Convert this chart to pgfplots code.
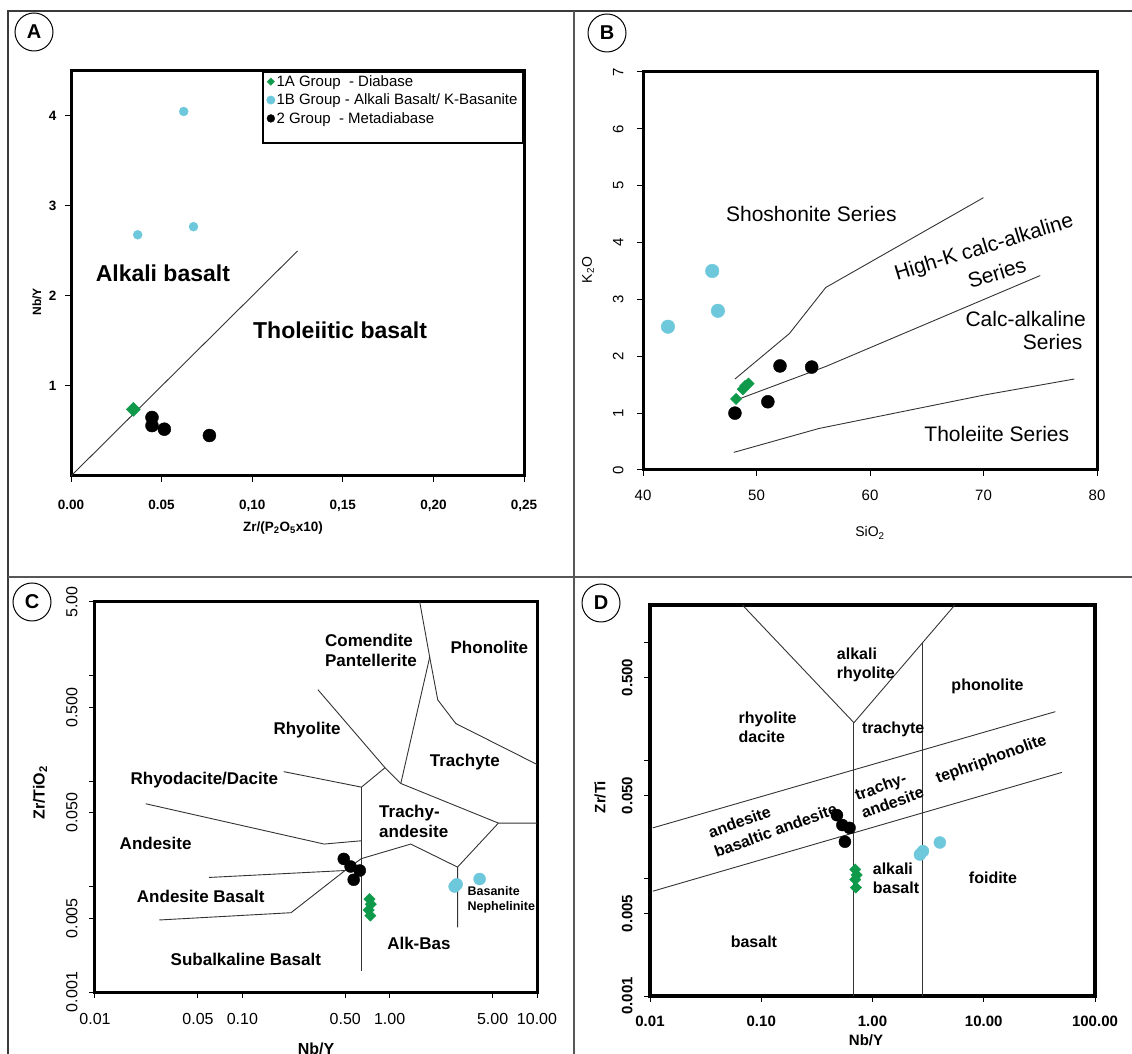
\documentclass[border=0pt]{standalone}
\usepackage{pgfplots}
\pgfplotsset{compat=1.18}
\usepackage{fontspec}
\setmainfont{Liberation Sans}
\setsansfont{Liberation Sans}
\definecolor{cgreen}{HTML}{0E9A4A}
\definecolor{ccyan}{HTML}{6EC8DC}
\definecolor{framec}{HTML}{3A3A3A}
\newcommand{\fs}[2]{\fontsize{#1pt}{#2pt}\selectfont}
\pgfplotsset{
  geo/.style={scale only axis, anchor=south west, tick align=outside, tick pos=left,
    axis line style={line width=3pt}, major tick length=6pt,
    major tick style={black, line width=1pt},
    xminorticks=false, yminorticks=false},
  bnd/.style={no marks, line width=0.9pt, black!80},
  gG/.style={only marks, mark=square*, color=cgreen, mark options={rotate=45}},
  gC/.style={only marks, mark=*, color=ccyan},
  gK/.style={only marks, mark=*, color=black},
}
\begin{document}
\begin{tikzpicture}
\useasboundingbox (0pt,0pt) rectangle (1132pt,1054pt);
% ---------------- frame ----------------
\draw[framec, line width=2.5pt] (8pt,0pt) -- (8pt,1043pt);
\draw[framec, line width=2pt] (7pt,1043pt) -- (1132pt,1043pt);
\draw[framec!85, line width=1.5pt] (574pt,0pt) -- (574pt,1043pt);
\draw[framec!85, line width=1.5pt] (8pt,477pt) -- (1132pt,477pt);
% ---------------- panel A ----------------
\begin{axis}[geo, at={(71pt,578pt)}, width=453pt, height=405pt,
  xmin=0, xmax=0.25, ymin=0, ymax=4.5,
  xtick={0,0.05,0.1,0.15,0.2,0.25}, xticklabels={0.00,0.05,{0,10},{0,15},{0,20},{0,25}},
  ytick={1,2,3,4}, yticklabels={1,2,3,4},
  ticklabel style={font=\fs{13.5}{16}\bfseries},
  xticklabel shift=15pt, yticklabel shift=5pt,
  legend style={at={(1,1)}, anchor=north east, draw=black, line width=2pt,
    font=\fs{15}{17}, inner xsep=4pt, inner ysep=2pt, row sep=3pt,
    nodes={inner sep=1.5pt}},
  legend cell align=left,
  legend image code/.code={\draw[#1] plot coordinates {(3pt,0pt)};},
  legend image post style={line width=0.4pt},
]
\addplot[bnd, forget plot] coordinates {(0,0) (0.125,2.5)};
\addplot[gG, mark size=5pt, forget plot] coordinates {(0.0344,0.74)};
\addplot[gC, mark size=4.5pt, forget plot] coordinates {(0.0622,4.05) (0.0368,2.68) (0.0676,2.77)};
\addplot[gK, mark size=6.5pt, forget plot] coordinates {(0.0447,0.65) (0.0447,0.56) (0.0515,0.52) (0.0764,0.45)};
\addlegendimage{gG, mark size=2.6pt}
\addlegendentry{1A Group~ - Diabase}
\addlegendimage{gC, mark size=4.2pt}
\addlegendentry{1B Group - Alkali Basalt/ K-Basanite}
\addlegendimage{gK, mark size=3.9pt}
\addlegendentry{2 Group~ - Metadiabase}
\addlegendimage{empty legend}
\addlegendentry{\rule{0pt}{7pt}}
\node[font=\fs{23}{26}\bfseries] at (axis cs:0.0507,2.25) {Alkali basalt};
\node[font=\fs{23}{26}\bfseries] at (axis cs:0.1485,1.62) {Tholeiitic basalt};
\end{axis}
\node[rotate=90, font=\fs{12}{14}\bfseries] at (37pt,752pt) {Nb/Y};
\node[font=\fs{13.5}{16}\bfseries] at (283pt,526pt) {Zr/(P\textsubscript{2}O\textsubscript{5}x10)};
% ---------------- panel B ----------------
\begin{axis}[geo, at={(643pt,584pt)}, width=454pt, height=398pt,
  xmin=40, xmax=80, ymin=0, ymax=7,
  xtick={40,50,60,70,80}, xticklabels={40,50,60,70,80},
  ytick={0,1,2,3,4,5,6,7}, yticklabels={0,1,2,3,4,5,6,7},
  ticklabel style={font=\fs{15}{17}},
  yticklabel style={rotate=90, anchor=south},
  xticklabel shift=11pt, yticklabel shift=10pt,
]
\addplot[bnd] coordinates {(48.1,1.6) (52.9,2.4) (56.1,3.21) (70,4.79)};
\addplot[bnd] coordinates {(48.6,1.26) (56.1,1.82) (75,3.42)};
\addplot[bnd] coordinates {(48,0.31) (55.5,0.73) (70.1,1.32) (78,1.6)};
\addplot[gC, mark size=6.8pt] coordinates {(42.2,2.52) (46.1,3.5) (46.6,2.8)};
\addplot[gK, mark size=6.5pt] coordinates {(48.1,1.0) (52.07,1.83) (54.86,1.81) (51.0,1.2)};
\addplot[gG, mark size=4pt] coordinates {(48.2,1.25) (48.8,1.42) (49.0,1.48) (49.3,1.52)};
\node[font=\fs{21}{24}] at (axis cs:54.83,4.51) {Shoshonite Series};
\node[font=\fs{21}{24}, rotate=17] at (axis cs:70.06,3.9) {High-K calc-alkaline};
\node[font=\fs{21}{24}, rotate=17] at (axis cs:71.17,3.47) {Series};
\node[font=\fs{21}{24}] at (axis cs:73.71,2.65) {Calc-alkaline};
\node[font=\fs{21}{24}] at (axis cs:76.1,2.26) {Series};
\node[font=\fs{21}{24}] at (axis cs:71.17,0.63) {Tholeiite Series};
\end{axis}
\node[rotate=90, font=\fs{14}{16}] at (588pt,784pt) {K\textsubscript{2}O};
\node[font=\fs{14}{16}] at (870pt,521pt) {SiO\textsubscript{2}};
% ---------------- panel C ----------------
\begin{axis}[geo, xmode=log, ymode=log, at={(95pt,62pt)}, width=442pt, height=390pt,
  xmin=0.01, xmax=10, ymin=0.001, ymax=5,
  xtick={0.01,0.05,0.1,0.5,1,5,10}, xticklabels={0.01,0.05,0.10,0.50,1.00,5.00,10.00},
  ytick={0.001,0.005,0.01,0.05,0.1,0.5,1,5}, yticklabels={0.001,0.005,{},0.050,{},0.500,{},5.00},
  ticklabel style={font=\fs{16}{18}},
  yticklabel style={rotate=90, anchor=south},
  xticklabel shift=12pt, yticklabel shift=8pt,
]
\addplot[bnd] coordinates {(0.644,0.0877) (0.644,0.00158)};
\addplot[bnd] coordinates {(0.644,0.0877) (0.93,0.134) (1.19,0.095)};
\addplot[bnd] coordinates {(0.326,0.736) (0.93,0.134)};
\addplot[bnd] coordinates {(1.19,0.095) (1.87,1.5) (1.6,5)};
\addplot[bnd] coordinates {(1.87,1.5) (2.12,0.59) (2.81,0.352) (10,0.144)};
\addplot[bnd] coordinates {(1.19,0.095) (5.47,0.040) (10,0.040)};
\addplot[bnd] coordinates {(5.47,0.040) (2.89,0.0153) (2.89,0.0041)};
\addplot[bnd] coordinates {(0.498,0.0142) (0.642,0.0184) (1.39,0.0253) (2.89,0.0153)};
\addplot[bnd] coordinates {(0.0594,0.0122) (0.498,0.0142)};
\addplot[bnd] coordinates {(0.0273,0.00482) (0.214,0.00565) (0.498,0.0142)};
\addplot[bnd] coordinates {(0.0221,0.061) (0.359,0.0253) (0.644,0.0272)};
\addplot[bnd] coordinates {(0.191,0.123) (0.644,0.0877)};
\addplot[gK, mark size=6pt] coordinates {(0.488,0.0183) (0.543,0.0155) (0.627,0.0142) (0.57,0.0116)};
\addplot[gC, mark size=6pt] coordinates {(2.76,0.0100) (2.85,0.0105) (4.08,0.0118)};
\addplot[gG, mark size=4pt] coordinates {(0.73,0.0076) (0.745,0.0068) (0.72,0.0060) (0.74,0.0053)};
\node[font=\fs{17}{20}\bfseries, anchor=west, align=left] at (axis cs:0.345,1.74) {Comendite\\Pantellerite};
\node[font=\fs{17}{20}\bfseries] at (axis cs:4.75,1.85) {Phonolite};
\node[font=\fs{17}{20}\bfseries] at (axis cs:0.275,0.303) {Rhyolite};
\node[font=\fs{17}{20}\bfseries] at (axis cs:3.24,0.152) {Trachyte};
\node[font=\fs{17}{20}\bfseries] at (axis cs:0.0552,0.103) {Rhyodacite/Dacite};
\node[font=\fs{17}{20}\bfseries, anchor=west, align=left] at (axis cs:0.804,0.0419) {Trachy-\\andesite};
\node[font=\fs{17}{20}\bfseries] at (axis cs:0.0258,0.0255) {Andesite};
\node[font=\fs{17}{20}\bfseries] at (axis cs:0.0522,0.00807) {Andesite Basalt};
\node[font=\fs{12.5}{15}\bfseries, anchor=west, align=left] at (axis cs:3.2,0.00752) {Basanite\\Nephelinite};
\node[font=\fs{17}{20}\bfseries] at (axis cs:1.58,0.00287) {Alk-Bas};
\node[font=\fs{17}{20}\bfseries] at (axis cs:0.1056,0.00203) {Subalkaline Basalt};
\end{axis}
\node[rotate=90, font=\fs{16}{18}\bfseries] at (40pt,261pt) {Zr/TiO\textsubscript{2}};
\node[font=\fs{16}{18}\bfseries] at (316pt,5pt) {Nb/Y};
% ---------------- panel D ----------------
\begin{axis}[geo, xmode=log, ymode=log, at={(650pt,58pt)}, width=445pt, height=391pt,
  xmin=0.01, xmax=100, ymin=0.001, ymax=2.06,
  axis line style={line width=3.5pt},
  xtick={0.01,0.1,1,10,100}, xticklabels={0.01,0.10,1.00,10.00,100.00},
  ytick={0.001,0.005,0.01,0.05,0.1,0.5,1}, yticklabels={0.001,0.005,{},0.050,{},0.500,{}},
  ticklabel style={font=\fs{15}{17}\bfseries},
  yticklabel style={rotate=90, anchor=south},
  xticklabel shift=10pt, yticklabel shift=8pt,
]
\addplot[bnd] coordinates {(0.0677,2.06) (0.681,0.207)};
\addplot[bnd] coordinates {(0.681,0.207) (5.5,2.06)};
\addplot[bnd] coordinates {(0.681,0.207) (0.681,0.001)};
\addplot[bnd] coordinates {(2.84,1.0) (2.84,0.001)};
\addplot[bnd] coordinates {(0.0106,0.0266) (44,0.257)};
\addplot[bnd] coordinates {(0.0106,0.00773) (50.3,0.0785)};
\addplot[gK, mark size=6pt] coordinates {(0.479,0.0341) (0.536,0.0281) (0.622,0.0266) (0.565,0.0203)};
\addplot[gC, mark size=6pt] coordinates {(2.67,0.0158) (2.84,0.0169) (4.03,0.0200)};
\addplot[gG, mark size=4pt] coordinates {(0.70,0.0118) (0.72,0.0106) (0.70,0.0097) (0.71,0.0083)};
\node[font=\fs{16}{19}\bfseries, anchor=west, align=left] at (axis cs:0.445,0.638) {alkali\\rhyolite};
\node[font=\fs{16}{19}\bfseries] at (axis cs:10.8,0.424) {phonolite};
\node[font=\fs{16}{19}\bfseries, anchor=west, align=left] at (axis cs:0.0583,0.19) {rhyolite\\dacite};
\node[font=\fs{16}{19}\bfseries, anchor=west] at (axis cs:0.75,0.182) {trachyte};
\node[font=\fs{16}{19}\bfseries, rotate=20] at (axis cs:0.0637,0.0299) {andesite};
\node[font=\fs{16}{19}\bfseries, rotate=20] at (axis cs:0.1346,0.0254) {basaltic andesite};
\node[font=\fs{16}{19}\bfseries, rotate=20, align=left] at (axis cs:1.415,0.0521) {trachy-\\andesite};
\node[font=\fs{16}{19}\bfseries, rotate=20] at (axis cs:11.7,0.1) {tephriphonolite};
\node[font=\fs{16}{19}\bfseries, anchor=west, align=left] at (axis cs:0.937,0.01) {alkali\\basalt};
\node[font=\fs{16}{19}\bfseries] at (axis cs:12.1,0.01) {foidite};
\node[font=\fs{16}{19}\bfseries] at (axis cs:0.0859,0.00287) {basalt};
\end{axis}
\node[rotate=90, font=\fs{15}{17}\bfseries] at (600pt,257pt) {Zr/Ti};
\node[font=\fs{15}{17}\bfseries] at (866pt,14pt) {Nb/Y};
% ---------------- panel letters ----------------
\foreach \x/\y/\t in {34/1022/A, 607/1021/B, 32/452/C, 601/451/D}{
  \draw[line width=1pt] (\x pt,\y pt) circle (19pt);
  \node[font=\fs{20}{22}\bfseries] at (\x pt,\y pt) {\t};
}
\end{tikzpicture}
\end{document}
